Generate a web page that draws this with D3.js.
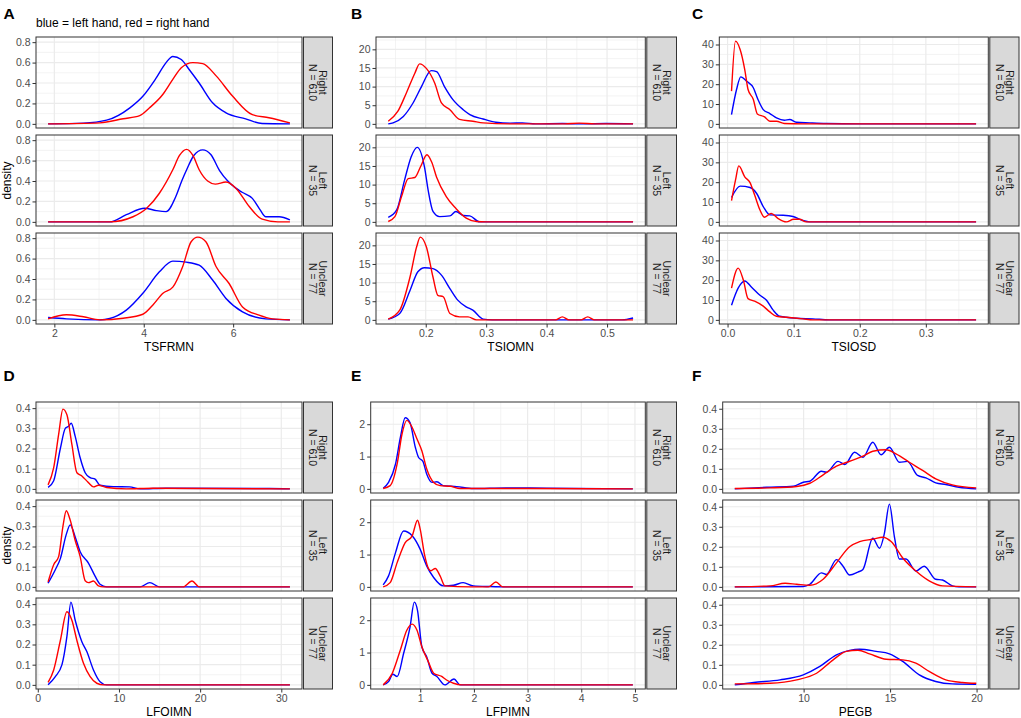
<!DOCTYPE html>
<html>
<head>
<meta charset="utf-8">
<script src="https://cdn.jsdelivr.net/npm/d3@7"></script>
<style>
  body { margin: 0; background: #fff; }
  text { font-family: "Liberation Sans", Arial, Helvetica, sans-serif; }
</style>
</head>
<body>
<svg id="chart" width="1021" height="718"></svg>
<script>
// ---- data ----
const facetNames = ["Right", "Left", "Unclear"];
const facetN = [610, 35, 77];
const panelLetters = ["A", "B", "C", "D", "E", "F"];
const varNames = ["TSFRMN", "TSIOMN", "TSIOSD", "LFOIMN", "LFPIMN", "PEGB"];
const subtitle = "blue = left hand, red = right hand";

const xTicksA = [2, 4, 6],             yTicksA = [0, 0.2, 0.4, 0.6, 0.8];
const xTicksB = [0.2, 0.3, 0.4, 0.5],  yTicksB = [0, 5, 10, 15, 20];
const xTicksC = [0, 0.1, 0.2, 0.3],    yTicksC = [0, 10, 20, 30, 40];
const xTicksD = [0, 10, 20, 30],       yTicksD = [0, 0.1, 0.2, 0.3, 0.4];
const xTicksE = [1, 2, 3, 4, 5],       yTicksE = [0, 1, 2];
const xTicksF = [10, 15, 20],          yTicksF = [0, 0.1, 0.2, 0.3, 0.4];

// density curves [x, density]; one array per facet: Right, Left, Unclear
const A_blue = [
  [[1.86,0],[2.65,0.007],[3.17,0.036],[3.69,0.157],[3.98,0.27],[4.28,0.45],[4.5,0.6],[4.65,0.66],[4.84,0.63],[5.02,0.53],[5.24,0.4],[5.54,0.206],[5.84,0.108],[6.28,0.049],[6.65,0.003],[7.27,0]],
  [[1.86,0],[3.24,0],[3.61,0.07],[4.02,0.134],[4.28,0.11],[4.5,0.1],[4.72,0.25],[4.85,0.4],[4.97,0.52],[5.12,0.65],[5.32,0.705],[5.5,0.66],[5.7,0.5],[5.88,0.4],[6.06,0.33],[6.2,0.29],[6.43,0.23],[6.6,0.12],[6.73,0.05],[7.03,0.05],[7.27,0.02]],
  [[1.86,0.023],[2.27,0.01],[3.02,0],[3.24,0.013],[3.61,0.095],[3.98,0.26],[4.35,0.47],[4.65,0.575],[4.95,0.565],[5.24,0.535],[5.54,0.39],[5.84,0.21],[6.21,0.078],[6.73,0.01],[7.27,0]]
];
const A_red = [
  [[1.86,0],[3.02,0.01],[3.54,0.05],[3.91,0.08],[4.13,0.157],[4.43,0.29],[4.65,0.435],[4.84,0.55],[5.1,0.6],[5.32,0.59],[5.62,0.47],[5.99,0.27],[6.43,0.09],[6.8,0.06],[7.27,0.01]],
  [[1.86,0],[3.24,0],[3.76,0.05],[4.06,0.13],[4.35,0.28],[4.65,0.51],[4.8,0.65],[4.96,0.71],[5.1,0.65],[5.24,0.51],[5.43,0.4],[5.6,0.37],[5.84,0.39],[6.06,0.33],[6.36,0.15],[6.65,0.026],[7.0,0],[7.27,0]],
  [[1.86,0.01],[2.27,0.05],[2.65,0.03],[3.02,0],[3.54,0.016],[3.98,0.055],[4.2,0.144],[4.43,0.26],[4.65,0.32],[4.87,0.52],[5.06,0.765],[5.21,0.81],[5.39,0.765],[5.62,0.52],[5.91,0.356],[6.21,0.127],[6.58,0.046],[6.88,0.01],[7.27,0]]
];
const B_blue = [
  [[0.138,0],[0.146,0.27],[0.163,2],[0.179,5.6],[0.193,10],[0.209,14.3],[0.218,14],[0.231,10],[0.245,6.5],[0.262,3.8],[0.273,2.5],[0.295,1.3],[0.316,0.44],[0.34,0.2],[0.36,0.27],[0.382,0],[0.426,0.1],[0.46,0],[0.498,0.1],[0.543,0]],
  [[0.138,1.2],[0.152,3.2],[0.165,11.2],[0.176,17.5],[0.186,20],[0.198,14.7],[0.204,8.5],[0.212,2.8],[0.223,1.4],[0.24,1.6],[0.25,2.8],[0.262,1.7],[0.273,1.6],[0.289,0],[0.543,0]],
  [[0.138,0.2],[0.157,1.7],[0.174,7.9],[0.187,12.9],[0.198,14],[0.212,13.75],[0.226,12],[0.24,8.4],[0.253,5.3],[0.267,3.5],[0.278,2.6],[0.295,0.2],[0.31,0],[0.525,0],[0.543,0.5]]
];
const B_red = [
  [[0.138,0.7],[0.154,3.4],[0.168,8.3],[0.182,13.6],[0.19,16.1],[0.201,14.9],[0.215,10.9],[0.226,5.6],[0.24,3.8],[0.256,1.2],[0.278,0.7],[0.295,0.27],[0.344,0],[0.43,0],[0.454,0.2],[0.48,0],[0.543,0]],
  [[0.138,0.1],[0.149,1.4],[0.16,6.8],[0.171,11.6],[0.182,11.9],[0.192,15],[0.202,18],[0.21,16],[0.218,12],[0.234,6.8],[0.25,3.6],[0.267,1],[0.284,0.1],[0.3,0],[0.543,0]],
  [[0.138,0.2],[0.157,2.6],[0.174,11.5],[0.185,19.6],[0.191,22.2],[0.201,19.6],[0.212,11.5],[0.22,6.6],[0.229,6.2],[0.24,1.7],[0.256,0.8],[0.27,0.8],[0.284,0],[0.415,0],[0.426,0.8],[0.437,0],[0.457,0],[0.468,0.8],[0.479,0],[0.543,0]]
];
const C_blue = [
  [[0.006,4.7],[0.0136,17.3],[0.02,23.7],[0.029,21.5],[0.039,18.2],[0.046,12.3],[0.054,7.2],[0.064,5.2],[0.074,3],[0.086,1.8],[0.094,2.2],[0.104,0.84],[0.124,0.5],[0.149,0.17],[0.2,0],[0.376,0]],
  [[0.006,12.3],[0.019,18],[0.034,17.3],[0.044,14.3],[0.054,7.7],[0.064,3.5],[0.084,3.3],[0.099,2.7],[0.114,0.7],[0.124,0],[0.376,0]],
  [[0.006,7.4],[0.016,16],[0.026,19.6],[0.036,16.6],[0.049,12.4],[0.059,9.9],[0.069,4.9],[0.079,1.8],[0.104,0.8],[0.129,0.5],[0.154,0],[0.376,0]]
];
const C_red = [
  [[0.006,16.5],[0.012,41.7],[0.019,37.5],[0.026,27.4],[0.031,17.3],[0.039,12.3],[0.045,5],[0.056,3.5],[0.064,1.3],[0.074,1.3],[0.086,0.17],[0.114,0],[0.376,0]],
  [[0.006,10.7],[0.012,21],[0.017,28.2],[0.026,22.7],[0.034,19.8],[0.041,13.5],[0.049,6],[0.056,2.3],[0.066,4.3],[0.076,1.8],[0.089,0],[0.1,1.3],[0.109,1.3],[0.119,0],[0.376,0]],
  [[0.006,16],[0.016,26.1],[0.024,19.9],[0.031,10.7],[0.041,9.4],[0.054,6.9],[0.064,4],[0.074,1.8],[0.089,1.3],[0.114,0.5],[0.129,0],[0.376,0]]
];
const D_blue = [
  [[1.27,0.007],[1.96,0.04],[2.78,0.2],[3.39,0.3],[3.8,0.31],[4.12,0.325],[4.61,0.26],[5.22,0.154],[5.84,0.08],[6.45,0.056],[7.06,0.048],[7.67,0.018],[9.3,0.011],[11.3,0.01],[12.6,0],[15.8,0.003],[28.5,0.002],[31.06,0]],
  [[1.27,0.018],[2.16,0.085],[2.78,0.14],[3.51,0.26],[4.0,0.307],[4.61,0.247],[5.22,0.174],[6.24,0.118],[7.06,0.053],[7.67,0.013],[8.49,0],[12.6,0],[13.8,0.021],[15.0,0],[31.06,0]],
  [[1.27,0],[2.16,0.041],[2.98,0.1],[3.59,0.24],[4.08,0.41],[4.61,0.32],[5.43,0.214],[6.04,0.165],[6.86,0.074],[7.67,0.016],[8.49,0],[31.06,0]]
];
const D_red = [
  [[1.27,0.02],[1.96,0.105],[2.57,0.27],[3.1,0.395],[3.59,0.367],[4.2,0.22],[4.82,0.08],[5.43,0.064],[6.24,0.031],[6.86,0.01],[7.47,0.018],[8.49,0.007],[10.9,0],[14.2,0.003],[31.06,0]],
  [[1.27,0.024],[1.96,0.11],[2.57,0.15],[3.1,0.3],[3.51,0.377],[4.0,0.33],[4.61,0.23],[5.22,0.15],[5.84,0.03],[6.24,0.021],[6.86,0.029],[7.47,0.005],[8.08,0],[17.9,0],[19.0,0.029],[19.9,0],[31.06,0]],
  [[1.27,0.012],[1.96,0.074],[2.78,0.22],[3.59,0.362],[4.2,0.32],[4.82,0.22],[5.63,0.107],[6.45,0.041],[7.27,0.008],[8.08,0],[31.06,0]]
];
const E_blue = [
  [[0.31,0.02],[0.41,0.2],[0.54,0.77],[0.63,1.59],[0.72,2.2],[0.81,2.05],[0.91,1.28],[0.97,0.97],[1.05,0.85],[1.12,0.46],[1.22,0.2],[1.31,0.22],[1.43,0.1],[1.68,0.07],[1.99,0.01],[2.6,0.03],[3.35,0.02],[4.96,0]],
  [[0.31,0.06],[0.41,0.34],[0.54,1.06],[0.69,1.73],[0.85,1.58],[1.0,1.16],[1.12,0.65],[1.25,0.29],[1.43,0.03],[1.62,0.05],[1.8,0.13],[1.99,0.03],[2.3,0.01],[2.6,0],[4.96,0]],
  [[0.31,0],[0.41,0.1],[0.49,0.33],[0.57,0.26],[0.69,0.97],[0.81,1.79],[0.89,2.56],[0.95,2.3],[1.03,1.18],[1.12,0.87],[1.22,0.36],[1.31,0.26],[1.46,0],[1.63,0.18],[1.74,0],[4.96,0]]
];
const E_red = [
  [[0.31,0.01],[0.44,0.1],[0.57,0.77],[0.66,1.69],[0.75,2.12],[0.85,1.9],[0.94,1.54],[1.03,1.18],[1.12,0.62],[1.25,0.2],[1.37,0.1],[1.56,0.08],[1.74,0.01],[3.0,0.01],[4.96,0]],
  [[0.31,0],[0.44,0.13],[0.57,0.75],[0.72,1.37],[0.85,1.58],[0.95,2.06],[1.0,1.78],[1.08,1.0],[1.16,0.55],[1.2,0.5],[1.28,0.57],[1.37,0.34],[1.46,0.03],[1.93,0],[2.27,0],[2.41,0.15],[2.54,0],[4.96,0]],
  [[0.31,0],[0.48,0.36],[0.63,1.08],[0.75,1.69],[0.85,1.88],[0.94,1.69],[1.03,1.18],[1.15,0.72],[1.25,0.36],[1.4,0.26],[1.49,0.15],[1.62,0.05],[1.77,0],[4.96,0]]
];
const F_blue = [
  [[6.02,0],[7.87,0.008],[9.41,0.013],[9.98,0.033],[10.36,0.038],[11.03,0.088],[11.32,0.083],[11.99,0.137],[12.38,0.122],[12.95,0.183],[13.43,0.158],[14.0,0.233],[14.48,0.17],[14.96,0.208],[15.54,0.133],[16.0,0.137],[16.59,0.067],[17.07,0.055],[17.64,0.03],[18.22,0.022],[18.98,0.008],[19.98,0]],
  [[6.02,0],[9.98,0.002],[10.36,0.013],[11.03,0.07],[11.32,0.062],[11.9,0.136],[12.28,0.103],[12.66,0.059],[13.14,0.074],[13.43,0.087],[14.0,0.243],[14.39,0.193],[14.67,0.267],[14.96,0.413],[15.25,0.25],[15.54,0.139],[15.92,0.139],[16.49,0.079],[16.97,0.103],[17.64,0.038],[18.03,0.034],[18.6,0.005],[18.98,0],[19.98,0]],
  [[6.02,0],[7.11,0.012],[8.64,0.025],[9.98,0.05],[10.94,0.092],[11.9,0.15],[12.66,0.172],[13.24,0.178],[14.19,0.167],[14.96,0.155],[15.73,0.117],[16.69,0.05],[17.64,0.017],[18.6,0.005],[19.98,0.003]]
];
const F_red = [
  [[6.02,0.002],[8.07,0.005],[9.6,0.012],[10.36,0.028],[11.13,0.07],[11.9,0.113],[12.66,0.138],[13.43,0.163],[14.0,0.188],[14.77,0.195],[15.34,0.175],[16.11,0.133],[16.88,0.092],[17.64,0.05],[18.6,0.02],[19.98,0.005]],
  [[6.02,0],[8.07,0.005],[8.93,0.018],[9.6,0.013],[10.36,0.008],[11.13,0.038],[11.9,0.12],[12.66,0.2],[13.24,0.226],[14.0,0.238],[14.58,0.248],[15.06,0.226],[15.73,0.144],[16.49,0.079],[17.26,0.03],[18.03,0.005],[19.98,0]],
  [[6.02,0.005],[8.07,0.008],[9.6,0.025],[10.75,0.058],[11.71,0.125],[12.47,0.167],[13.14,0.173],[13.81,0.155],[14.77,0.128],[15.73,0.125],[16.49,0.108],[17.26,0.067],[18.22,0.025],[19.18,0.012],[19.98,0.008]]
];

// ---- layout ----
const svg = d3.select("#chart");
const rowTops = [[37, 135, 233], [402, 500, 598]];
const facetH = 91;

const panels = [
  { row: 0, x0: 36,    x1: 302,   sx1: 332.5, blue: A_blue, red: A_red, xt: xTicksA, yt: yTicksA, xf: "d",   yf: ".1f", lx: 3.5 },
  { row: 0, x0: 376,   x1: 645.3, sx1: 676.5, blue: B_blue, red: B_red, xt: xTicksB, yt: yTicksB, xf: ".1f", yf: "d",   lx: 351 },
  { row: 0, x0: 719.3, x1: 988.3, sx1: 1019,  blue: C_blue, red: C_red, xt: xTicksC, yt: yTicksC, xf: ".1f", yf: "d",   lx: 692 },
  { row: 1, x0: 36,    x1: 302,   sx1: 332.5, blue: D_blue, red: D_red, xt: xTicksD, yt: yTicksD, xf: "d",   yf: ".1f", lx: 3.5 },
  { row: 1, x0: 370.7, x1: 645.3, sx1: 676.5, blue: E_blue, red: E_red, xt: xTicksE, yt: yTicksE, xf: "d",   yf: "d",   lx: 351 },
  { row: 1, x0: 722.7, x1: 988.3, sx1: 1019,  blue: F_blue, red: F_red, xt: xTicksF, yt: yTicksF, xf: "d",   yf: ".1f", lx: 692 }
];

// ggplot-like minor breaks: halfway between majors, one extra step each side if inside limits
function minorBreaks(ticks, domain) {
  const step = ticks[1] - ticks[0];
  const b = ticks.slice();
  if (domain[0] < b[0]) b.unshift(b[0] - step);
  if (domain[1] > b[b.length - 1]) b.push(b[b.length - 1] + step);
  const m = [];
  for (let i = 0; i < b.length - 1; i++) m.push((b[i] + b[i + 1]) / 2);
  return m.filter(v => v >= domain[0] && v <= domain[1]);
}

const line = (x, y) => d3.line().x(d => x(d[0])).y(d => y(d[1])).curve(d3.curveMonotoneX);

panels.forEach((p, i) => {
  const all = [...p.blue.flat(), ...p.red.flat()];
  const xExt = d3.extent(all, d => d[0]);
  const xPad = (xExt[1] - xExt[0]) * 0.05;
  const xDom = [xExt[0] - xPad, xExt[1] + xPad];
  const yMax = d3.max(all, d => d[1]);
  const yDom = [-0.05 * yMax, 1.05 * yMax];

  const x = d3.scaleLinear().domain(xDom).range([p.x0, p.x1]);
  const xMinor = minorBreaks(p.xt, xDom);
  const yMinorT = minorBreaks(p.yt, yDom);

  for (let f = 0; f < 3; f++) {
    const top = rowTops[p.row][f];
    const bottom = top + facetH;
    const y = d3.scaleLinear().domain(yDom).range([bottom, top]);
    const g = svg.append("g");

    g.append("rect").attr("x", p.x0).attr("y", top)
      .attr("width", p.x1 - p.x0).attr("height", facetH).attr("fill", "#fff");

    // grid
    g.selectAll(".vmin").data(xMinor).join("line")
      .attr("x1", d => x(d)).attr("x2", d => x(d)).attr("y1", top).attr("y2", bottom)
      .attr("stroke", "#EBEBEB").attr("stroke-width", 0.6);
    g.selectAll(".hmin").data(yMinorT).join("line")
      .attr("x1", p.x0).attr("x2", p.x1).attr("y1", d => y(d)).attr("y2", d => y(d))
      .attr("stroke", "#EBEBEB").attr("stroke-width", 0.6);
    g.selectAll(".vmaj").data(p.xt).join("line")
      .attr("x1", d => x(d)).attr("x2", d => x(d)).attr("y1", top).attr("y2", bottom)
      .attr("stroke", "#EBEBEB").attr("stroke-width", 1.2);
    g.selectAll(".hmaj").data(p.yt).join("line")
      .attr("x1", p.x0).attr("x2", p.x1).attr("y1", d => y(d)).attr("y2", d => y(d))
      .attr("stroke", "#EBEBEB").attr("stroke-width", 1.2);

    // density curves
    g.append("path").datum(p.blue[f]).attr("d", line(x, y))
      .attr("fill", "none").attr("stroke", "#0000FF").attr("stroke-width", 1.4);
    g.append("path").datum(p.red[f]).attr("d", line(x, y))
      .attr("fill", "none").attr("stroke", "#FF0000").attr("stroke-width", 1.4);

    // panel border
    g.append("rect").attr("x", p.x0).attr("y", top)
      .attr("width", p.x1 - p.x0).attr("height", facetH)
      .attr("fill", "none").attr("stroke", "#333333").attr("stroke-width", 1);

    // strip on the right
    const sx0 = p.x1 + 1.5;
    g.append("rect").attr("x", sx0).attr("y", top)
      .attr("width", p.sx1 - sx0).attr("height", facetH)
      .attr("fill", "#D9D9D9").attr("stroke", "#333333").attr("stroke-width", 1);
    const st = g.append("text")
      .attr("transform", `translate(${(sx0 + p.sx1) / 2},${top + facetH / 2}) rotate(90)`)
      .attr("text-anchor", "middle").attr("font-size", 10.5).attr("fill", "#1A1A1A");
    st.append("tspan").attr("x", 0).attr("dy", "-0.12em").text(facetNames[f]);
    st.append("tspan").attr("x", 0).attr("dy", "0.95em").text(`N = ${facetN[f]}`);

    // y axis
    const ya = g.append("g").attr("transform", `translate(${p.x0},0)`)
      .call(d3.axisLeft(y).tickValues(p.yt).tickFormat(d3.format(p.yf)).tickSize(3.5).tickPadding(2));
    ya.select(".domain").remove();
    ya.selectAll("line").attr("stroke", "#333333");
    ya.selectAll("text").attr("fill", "#4D4D4D").attr("font-size", 10.5)
      .style("font-family", '"Liberation Sans", Arial, sans-serif');

    // x axis on the bottom facet only
    if (f === 2) {
      const xa = g.append("g").attr("transform", `translate(0,${bottom})`)
        .call(d3.axisBottom(x).tickValues(p.xt).tickFormat(d3.format(p.xf)).tickSize(3.5).tickPadding(2));
      xa.select(".domain").remove();
      xa.selectAll("line").attr("stroke", "#333333");
      xa.selectAll("text").attr("fill", "#4D4D4D").attr("font-size", 10.5)
        .style("font-family", '"Liberation Sans", Arial, sans-serif');

      svg.append("text").attr("x", (p.x0 + p.x1) / 2).attr("y", bottom + 26.5)
        .attr("text-anchor", "middle").attr("font-size", 12).attr("fill", "#000")
        .text(varNames[i]);
    }
  }

  // panel letter
  svg.append("text").attr("x", p.lx).attr("y", p.row === 0 ? 18.5 : 380.5)
    .attr("font-size", 15.5).attr("font-weight", "bold").attr("fill", "#000")
    .text(panelLetters[i]);

  // y axis title on the left column
  if (p.x0 < 100) {
    const cy = (rowTops[p.row][0] + rowTops[p.row][2] + facetH) / 2;
    svg.append("text")
      .attr("transform", `translate(10.5,${cy}) rotate(-90)`)
      .attr("text-anchor", "middle").attr("font-size", 12).attr("fill", "#000")
      .text("density");
  }
});

svg.append("text").attr("x", 36).attr("y", 27)
  .attr("font-size", 12).attr("fill", "#000").text(subtitle);
</script>
</body>
</html>
